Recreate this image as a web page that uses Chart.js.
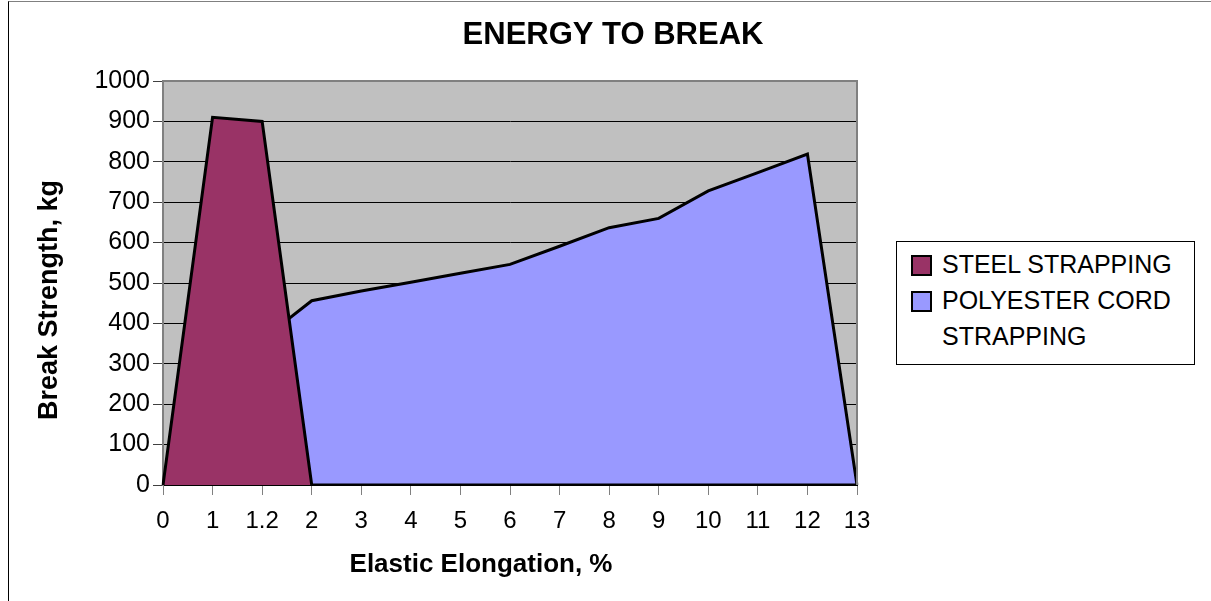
<!DOCTYPE html>
<html>
<head>
<meta charset="utf-8">
<script src="https://cdn.jsdelivr.net/npm/chart.js@4.4.1/dist/chart.umd.min.js"></script>
<style>
  html, body { margin: 0; padding: 0; background: #fff; }
  #wrap { position: relative; width: 1211px; height: 601px; overflow: hidden; }
  #frame { position: absolute; left: 8px; top: 1px; width: 1300px; height: 700px;
           border-left: 1px solid #000; border-top: 1px solid #808080; pointer-events: none; }
  #legend { position: absolute; left: 896px; top: 241px; width: 297px; height: 122px;
            border: 1px solid #000; background: #fff; box-sizing: content-box;
            font-family: 'Liberation Sans', Arial, sans-serif; font-size: 25px; color: #000; }
  .item { position: absolute; left: 14px; width: 270px; line-height: 36px; }
  .swatch { position: absolute; left: 0; top: 9px; width: 17px; height: 17px; border: 2px solid #000; }
  .label { margin-left: 31px; display: block; }
</style>
</head>
<body>
<div id="wrap">
  <canvas id="energyChart" width="1211" height="601"></canvas>
  <div id="frame"></div>
  <div id="legend"></div>
</div>
<script>
// == 데이터 == //
const categories = ['0', '1', '1.2', '2', '3', '4', '5', '6', '7', '8', '9', '10', '11', '12', '13'];
const steelStrapping = [0, 910, 900, 0, 0, 0, 0, 0, 0, 0, 0, 0, 0, 0, 0];
const polyesterStrapping = [0, 300, 360, 456, 480, 502, 524, 546, 591, 637, 660, 728, 773, 819, 0];
const seriesNames = ['STEEL STRAPPING', 'POLYESTER CORD STRAPPING'];
const seriesColors = ['#993366', '#9999FF'];
const yMin = 0;
const yMax = 1000;
const yStep = 100;
const xTitle = 'Elastic Elongation, %';
const yTitle = 'Break Strength, kg';

const FONT = "'Liberation Sans', Arial, sans-serif";
Chart.defaults.font.family = FONT;
Chart.defaults.color = '#000';

// == 회색 플롯 배경, 테두리, 축 제목 == //
const plotArea = {
  id: 'plotArea',
  beforeDraw(chart) {
    const a = chart.chartArea;
    const ctx = chart.ctx;
    ctx.save();
    ctx.fillStyle = '#C0C0C0';
    ctx.fillRect(a.left, a.top, a.right - a.left, a.bottom - a.top);
    ctx.restore();
  },
  afterDraw(chart) {
    const a = chart.chartArea;
    const ctx = chart.ctx;
    ctx.save();
    ctx.strokeStyle = '#808080';
    ctx.lineWidth = 2;
    ctx.beginPath();
    ctx.moveTo(a.left, a.top);
    ctx.lineTo(a.right, a.top);
    ctx.lineTo(a.right, a.bottom);
    ctx.stroke();

    // 축 제목 (원본처럼 살짝 왼쪽/아래로 치우침)
    ctx.fillStyle = '#000';
    ctx.font = 'bold 26px ' + FONT;
    ctx.textAlign = 'center';
    ctx.textBaseline = 'middle';
    ctx.fillText(xTitle, (a.left + a.right) / 2 - 29, a.bottom + 80);

    ctx.font = 'bold 27px ' + FONT;
    ctx.translate(50, (a.top + a.bottom) / 2 + 17);
    ctx.rotate(-Math.PI / 2);
    ctx.fillText(yTitle, 0, 0);
    ctx.restore();
  }
};

const CHART = document.getElementById('energyChart');

new Chart(CHART, {
  type: 'line',
  data: {
    labels: categories,
    datasets: [
      {
        label: seriesNames[0],
        data: steelStrapping,
        backgroundColor: seriesColors[0],
        borderColor: '#000',
        borderWidth: 3,
        fill: 'origin',
        pointRadius: 0,
        tension: 0
      },
      {
        label: seriesNames[1],
        data: polyesterStrapping,
        backgroundColor: seriesColors[1],
        borderColor: '#000',
        borderWidth: 3,
        fill: 'origin',
        pointRadius: 0,
        tension: 0
      }
    ]
  },
  options: {
    responsive: false,
    animation: false,
    devicePixelRatio: 1,
    layout: { padding: { left: 15, right: 0, top: 0, bottom: 0 } },
    scales: {
      x: {
        offset: false,
        grid: { drawOnChartArea: false, drawTicks: true, tickLength: 10, color: '#808080' },
        border: { color: '#000', width: 2 },
        ticks: { font: { size: 24 }, padding: 12, maxRotation: 0, autoSkip: false },
        afterFit: (s) => { s.height = 116; }
      },
      y: {
        min: yMin,
        max: yMax,
        grid: { color: '#000', tickColor: '#404040', tickLength: 10 },
        border: { color: '#808080', width: 2 },
        ticks: { stepSize: yStep, font: { size: 25 }, padding: 3, callback: (v) => String(v) },
        afterFit: (s) => { s.width = 148; }
      },
      spacer: {
        type: 'linear',
        position: 'right',
        display: true,
        grid: { display: false },
        border: { display: false },
        ticks: { display: false },
        afterFit: (s) => { s.width = 354; }
      }
    },
    plugins: {
      legend: { display: false },
      tooltip: { enabled: false },
      title: {
        display: true,
        text: 'ENERGY TO BREAK',
        font: { size: 31, weight: 'bold' },
        color: '#000',
        padding: { top: 17, bottom: 26.8 }
      }
    }
  },
  plugins: [plotArea]
});

// == 범례 == //
const legendBox = document.getElementById('legend');
seriesNames.forEach((name, i) => {
  const item = document.createElement('div');
  item.className = 'item';
  item.style.top = (4 + i * 36) + 'px';
  item.innerHTML = '<span class="swatch" style="background:' + seriesColors[i] + '"></span>' +
    '<span class="label">' + name + '</span>';
  legendBox.appendChild(item);
});
</script>
</body>
</html>
